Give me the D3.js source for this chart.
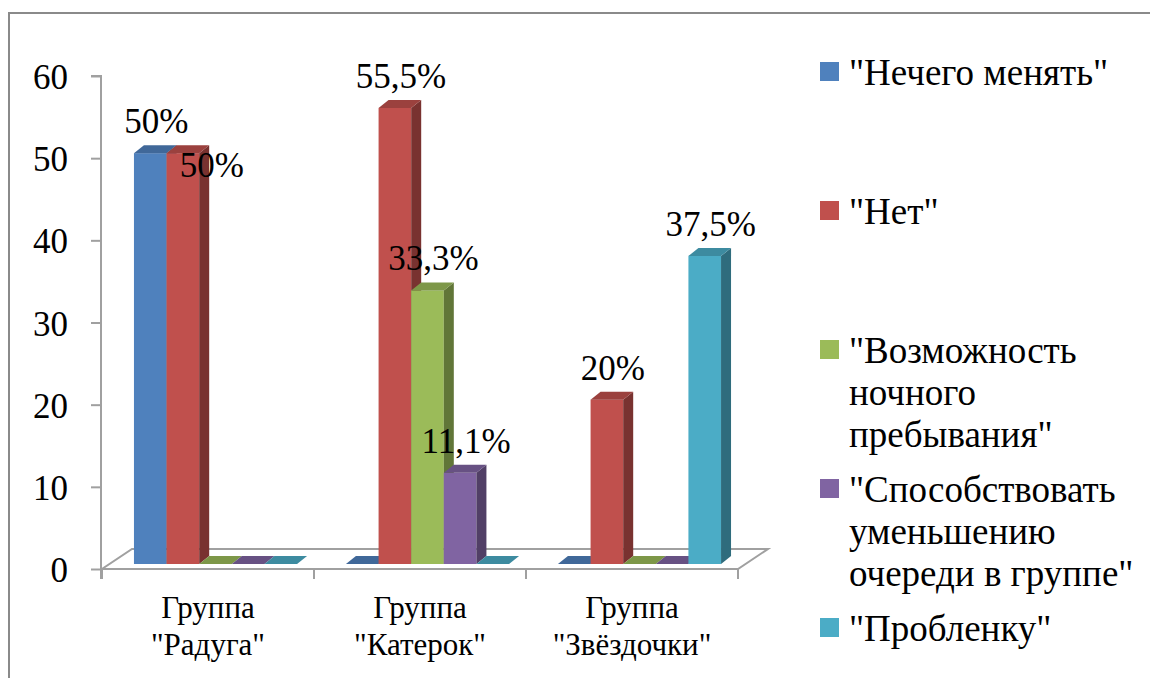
<!DOCTYPE html>
<html>
<head>
<meta charset="utf-8">
<script src="https://cdn.jsdelivr.net/npm/d3@7"></script>
</head>
<body style="margin:0">
<div id="chart"></div>
<script>
// data
const categories = ['Группа "Радуга"', 'Группа "Катерок"', 'Группа "Звёздочки"'];
const seriesNames = ['"Нечего менять"', '"Нет"', '"Возможность ночного пребывания"',
                     '"Способствовать уменьшению очереди в группе"', '"Пробленку"'];
const nechegoMenyat = [50, 0, 0];
const net = [50, 55.5, 20];
const vozmozhnost = [0, 33.3, 0];
const sposobstvovat = [0, 11.1, 0];
const problenku = [0, 0, 37.5];
const yTicks = [0, 10, 20, 30, 40, 50, 60];

const seriesValues = [nechegoMenyat, net, vozmozhnost, sposobstvovat, problenku];
const colors = ["#4F81BD", "#C0504D", "#9BBB59", "#8064A2", "#4BACC6"];

const FONT = "Liberation Serif, Tinos, Times New Roman, serif";
const width = 1150, height = 678;
const svg = d3.select("#chart").append("svg")
    .attr("width", width)
    .attr("height", height);
const root = svg.append("g").attr("font-family", FONT);

// chart border (only top/left visible in the crop)
root.append("path")
    .attr("d", "M9,678 L9,13 L1150,13")
    .attr("fill", "none")
    .attr("stroke", "#8a8a8a")
    .attr("stroke-width", 2);

const x0 = d3.scaleBand().domain(categories).range([102, 738]);
const y = d3.scaleLinear().domain([0, 60]).range([569, 76]);

// 3d offsets
const floorDx = 30, floorDy = -20;     // depth of floor
const barShiftX = 7.5, barShiftY = -5; // bars sit a bit back from the front plane
const depthX = 10, depthY = -8;        // bar depth

const barW = x0.bandwidth() / 6.5;     // 5 bars + gap of 150%
const x1 = d3.scaleBand().domain(d3.range(seriesNames.length)).range([0, barW * 5]);

const axisColor = "#a0a0a0";

// floor
const fl = 102, fr = 738, fb = y(0);
root.append("path")
    .attr("d", `M${fl},${fb} L${fr},${fb} L${fr + floorDx},${fb + floorDy} L${fl + floorDx},${fb + floorDy} Z`)
    .attr("fill", "#fff")
    .attr("stroke", axisColor)
    .attr("stroke-width", 2);

// y axis
const yAxis = d3.axisLeft(y).tickValues(yTicks).tickSize(10).tickPadding(23).tickFormat(d3.format("d"));
const gy = root.append("g").attr("transform", "translate(101,0)").call(yAxis);
gy.attr("font-family", FONT).attr("font-size", 35);
gy.select(".domain").attr("stroke", axisColor).attr("stroke-width", 2).attr("d", `M-10,${y(60)}H0V${y(0) + 10}`);
gy.selectAll(".tick line").attr("stroke", axisColor).attr("stroke-width", 2);
gy.selectAll(".tick text").attr("dy", "0.36em").attr("fill", "#000");

// x axis ticks at category boundaries
const bounds = categories.map(c => x0(c)).concat([x0(categories[categories.length - 1]) + x0.bandwidth()]);
root.selectAll(".xtick").data(bounds).enter().append("line")
    .attr("x1", d => d).attr("x2", d => d)
    .attr("y1", y(0)).attr("y2", y(0) + 10)
    .attr("stroke", axisColor).attr("stroke-width", 2);

// category labels
const catG = root.selectAll(".cat").data(categories).enter().append("text")
    .attr("text-anchor", "middle")
    .attr("font-size", 31)
    .attr("x", d => x0(d) + x0.bandwidth() / 2)
    .attr("y", 618);
catG.each(function (d) {
  const i = d.indexOf(" ");
  const parts = [d.slice(0, i), d.slice(i + 1)];
  d3.select(this).selectAll("tspan").data(parts).enter().append("tspan")
      .attr("x", x0(d) + x0.bandwidth() / 2)
      .attr("dy", (p, k) => k === 0 ? 0 : 37)
      .text(p => p);
});

// bars
const shade = (c, k) => d3.color(c).darker(k).formatHex();
const bars = [];
categories.forEach((c, ci) => {
  const start = x0(c) + x0.bandwidth() / 2 - barW * 2.5 + barShiftX;
  seriesValues.forEach((vals, si) => {
    bars.push({ ci, si, v: vals[ci], x: start + x1(si), color: colors[si] });
  });
});

const barG = root.append("g");
bars.forEach(b => {
  const top = y(b.v) + barShiftY, bot = y(0) + barShiftY, x = b.x, w = barW;
  const g = barG.append("g");
  if (b.v > 0) {
    g.append("rect").attr("x", x).attr("y", top).attr("width", w).attr("height", bot - top).attr("fill", b.color);
    g.append("path")
      .attr("d", `M${x + w},${top} L${x + w + depthX},${top + depthY} L${x + w + depthX},${bot + depthY} L${x + w},${bot} Z`)
      .attr("fill", shade(b.color, 1.3));
  }
  g.append("path")
    .attr("d", `M${x},${top} L${x + depthX},${top + depthY} L${x + w + depthX},${top + depthY} L${x + w},${top} Z`)
    .attr("fill", shade(b.color, 0.6));
});

// value labels
const fmt = v => String(v).replace(".", ",") + "%";
const labelData = bars.filter(b => b.v > 0);
const collides = b => {
  const prev = bars.find(p => p.ci === b.ci && p.si === b.si - 1);
  return prev && prev.v === b.v;
};
root.selectAll(".lbl").data(labelData).enter().append("text")
    .attr("text-anchor", "middle")
    .attr("font-size", 35)
    .attr("x", b => b.x + barW / 2 + (collides(b) ? 29 : 6))
    .attr("y", b => y(b.v) + barShiftY + (collides(b) ? 24 : -20))
    .text(b => fmt(b.v));

// legend
const legend = root.append("g");
const legTop = 62, legStep = 139, lineH = 42, maxW = 295;
seriesNames.forEach((name, i) => {
  const ty = legTop + i * legStep;
  legend.append("rect").attr("x", 820).attr("y", ty).attr("width", 19).attr("height", 19).attr("fill", colors[i]);
  const t = legend.append("text").attr("x", 849).attr("y", ty + 23).attr("font-size", 37);
  const words = name.split(" ");
  let line = [];
  let tspan = t.append("tspan").attr("x", 849).attr("dy", 0);
  words.forEach(w => {
    line.push(w);
    tspan.text(line.join(" "));
    if (tspan.node().getComputedTextLength() > maxW && line.length > 1) {
      line.pop();
      tspan.text(line.join(" "));
      line = [w];
      tspan = t.append("tspan").attr("x", 849).attr("dy", lineH).text(w);
    }
  });
});
</script>
</body>
</html>
